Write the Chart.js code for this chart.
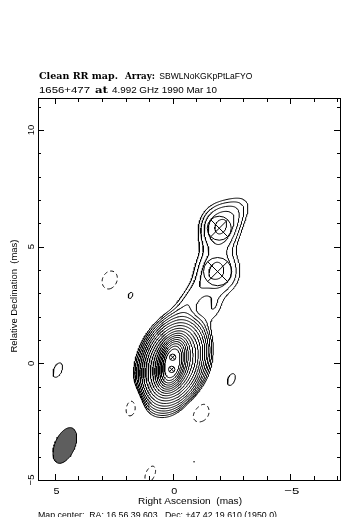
<!DOCTYPE html>
<html><head><meta charset="utf-8">
<style>html,body{margin:0;padding:0;background:#fff;overflow:hidden}</style>
<script src="https://cdn.jsdelivr.net/npm/chart.js@4.4.0/dist/chart.umd.min.js"></script>
</head><body>
<canvas id="c" width="341" height="517"></canvas>
<script>
// ---------------- text ----------------
const TITLE_1 = ["Clean RR map.", "Array:", "SBWLNoKGKpPtLaFYO"];
const TITLE_2 = ["1656+477", "at", "4.992 GHz 1990 Mar 10"];
const X_TITLE = "Right Ascension  (mas)";
const Y_TITLE = "Relative Declination  (mas)";
const FOOTER = "Map center:  RA: 16 56 39.603,  Dec: +47 42 19.610 (1950.0)";

// ---------------- axes ----------------
const X_RANGE = [-7.11, 5.72];          // RA runs right-to-left
const Y_RANGE = [-5, 11.37];
const X_TICKS = [5, 0, -5];
const Y_TICKS = [10, 5, 0, -5];
const X_MINOR = [5, 4, 3, 2, 1, 0, -1, -2, -3, -4, -5, -6, -7];
const Y_MINOR = [-5, -4, -3, -2, -1, 0, 1, 2, 3, 4, 5, 6, 7, 8, 9, 10, 11];

// ---------------- restored brightness model (mas, contour units) ----------------
//                core A  core B  core env  J1     J2     J-halo bridge spur   P1     P2     P3     P4     N1     N2     N3     N4
const CMP_RA   = [0.00,   0.04,  -0.02,   -1.98, -1.91, -2.65, -0.75, -1.74,  4.88, -2.48, -0.90,  1.81,  2.67,  1.64, -1.20,  0.95];
const CMP_DEC  = [0.26,  -0.26,   0.00,    5.79,  3.93,  6.50,  2.75,  2.35, -0.29, -0.72, -4.22,  2.93,  3.57, -1.75, -2.10, -4.75];
const CMP_PEAK = [430,    430,    95,      3.8,   3.0,   1.4,   1.6,   1.15,  1.12,  1.10,  1.004, 1.16, -1.25, -1.42, -1.30, -1.15];
const CMP_MAJ  = [0.90,   0.90,   1.88,    1.50,  1.60,  1.60,  1.70,  1.10,  1.62,  1.62,  1.62,  0.90,  1.40,  1.62,  1.50,  1.62];
const CMP_MIN  = [0.53,   0.53,   1.24,    1.25,  1.50,  1.00,  0.80,  0.70,  0.85,  0.85,  0.85,  0.60,  1.10,  0.85,  1.20,  0.85];
const CMP_PA   = [-20,    -20,    -20,     -10,   0,     -45,   -35,   -20,   -23,   -23,   -23,   -23,   -23,   -23,   -30,   -23];

// contour levels (negative dashed)
const LEVELS = [-1, 1, 1.41, 2, 2.83, 4, 5.66, 8, 11.3, 16, 22.6, 32, 45.3, 64, 90.5, 128, 181, 256, 362];

// model-fit components (circle + cross markers)
const MOD_RA   = [0.00, 0.04, -1.98, -1.91];
const MOD_DEC  = [0.26, -0.26, 5.79, 3.93];
const MOD_SIZE = [0.27, 0.27, 1.02, 1.20];

// restoring beam
const BEAM_POS  = [4.58, -3.52];
const BEAM_AXES = [1.62, 0.85];
const BEAM_PA   = -23;

// ---------------- contouring ----------------
const STEP = 0.04;
const X0 = X_RANGE[0], Y0 = Y_RANGE[0];
const NX = Math.round((X_RANGE[1] - X_RANGE[0]) / STEP) + 1;
const NY = Math.round((Y_RANGE[1] - Y_RANGE[0]) / STEP) + 1;

function brightnessGrid() {
  const comps = CMP_RA.map((ra, i) => {
    const pa = CMP_PA[i] * Math.PI / 180;
    return { ra, dec: CMP_DEC[i], p: CMP_PEAK[i], sa: CMP_MAJ[i] / 2.3548, sb: CMP_MIN[i] / 2.3548, s: Math.sin(pa), c: Math.cos(pa) };
  });
  const g = new Float64Array(NX * NY);
  for (let j = 0; j < NY; j++) {
    const y = Y0 + j * STEP;
    for (let i = 0; i < NX; i++) {
      const x = X0 + i * STEP;
      let v = 0;
      for (const q of comps) {
        const dx = x - q.ra, dy = y - q.dec;
        const u = dx * q.s + dy * q.c, w = dx * q.c - dy * q.s;
        const e = 0.5 * (u * u / (q.sa * q.sa) + w * w / (q.sb * q.sb));
        if (e < 30) v += q.p * Math.exp(-e);
      }
      g[j * NX + i] = v;
    }
  }
  return g;
}

function isoSegments(g, lev) {
  const segs = [];
  const interp = (v1, v2) => (lev - v1) / (v2 - v1);
  for (let j = 0; j < NY - 1; j++) {
    for (let i = 0; i < NX - 1; i++) {
      const a = g[j * NX + i], b = g[j * NX + i + 1], c = g[(j + 1) * NX + i + 1], d = g[(j + 1) * NX + i];
      const idx = (a > lev ? 1 : 0) | (b > lev ? 2 : 0) | (c > lev ? 4 : 0) | (d > lev ? 8 : 0);
      if (idx === 0 || idx === 15) continue;
      const xi = X0 + i * STEP, yj = Y0 + j * STEP;
      const E = (e) => {
        switch (e) {
          case 0: return { k: (j * NX + i) * 2, x: xi + STEP * interp(a, b), y: yj };
          case 1: return { k: (j * NX + i + 1) * 2 + 1, x: xi + STEP, y: yj + STEP * interp(b, c) };
          case 2: return { k: ((j + 1) * NX + i) * 2, x: xi + STEP * interp(d, c), y: yj + STEP };
          default: return { k: (j * NX + i) * 2 + 1, x: xi, y: yj + STEP * interp(a, d) };
        }
      };
      let pairs;
      switch (idx) {
        case 1: case 14: pairs = [[3, 0]]; break;
        case 2: case 13: pairs = [[0, 1]]; break;
        case 3: case 12: pairs = [[3, 1]]; break;
        case 4: case 11: pairs = [[1, 2]]; break;
        case 6: case 9: pairs = [[0, 2]]; break;
        case 7: case 8: pairs = [[3, 2]]; break;
        case 5: { const m = (a + b + c + d) / 4; pairs = m > lev ? [[0, 1], [2, 3]] : [[3, 0], [1, 2]]; break; }
        case 10: { const m = (a + b + c + d) / 4; pairs = m > lev ? [[3, 0], [1, 2]] : [[0, 1], [2, 3]]; break; }
      }
      for (const [e1, e2] of pairs) segs.push([E(e1), E(e2)]);
    }
  }
  return segs;
}

function chainSegments(segs) {
  const map = new Map();
  segs.forEach((s, n) => {
    for (const p of s) { if (!map.has(p.k)) map.set(p.k, []); map.get(p.k).push(n); }
  });
  const used = new Uint8Array(segs.length);
  const lines = [];
  const walk = (key, out) => {
    for (;;) {
      const list = map.get(key) || [];
      let nxt = -1;
      for (const m of list) if (!used[m]) { nxt = m; break; }
      if (nxt < 0) break;
      used[nxt] = 1;
      const s = segs[nxt];
      if (s[0].k === key) { out.push(s[1]); key = s[1].k; } else { out.push(s[0]); key = s[0].k; }
    }
  };
  for (let n = 0; n < segs.length; n++) {
    if (used[n]) continue;
    used[n] = 1;
    const fwd = [segs[n][1]], back = [];
    walk(segs[n][1].k, fwd);
    walk(segs[n][0].k, back);
    lines.push(back.reverse().concat([segs[n][0]], fwd));
  }
  return lines;
}

const GRID = brightnessGrid();
const posData = [], negData = [];
for (const lev of LEVELS) {
  const lines = chainSegments(isoSegments(GRID, lev));
  const target = lev < 0 ? negData : posData;
  for (const ln of lines) {
    for (const p of ln) target.push({ x: p.x, y: p.y });
    target.push({ x: ln[ln.length - 1].x, y: null });
  }
}

// beam outline
const beamData = [];
{
  const pa = BEAM_PA * Math.PI / 180, a = BEAM_AXES[0] / 2, b = BEAM_AXES[1] / 2;
  for (let t = 0; t <= 72; t++) {
    const th = t / 72 * 2 * Math.PI;
    const u = a * Math.cos(th), w = b * Math.sin(th);
    beamData.push({ x: BEAM_POS[0] + u * Math.sin(pa) + w * Math.cos(pa), y: BEAM_POS[1] + u * Math.cos(pa) - w * Math.sin(pa) });
  }
}

const modData = MOD_RA.map((ra, i) => ({ x: ra, y: MOD_DEC[i] }));
const modRadius = (ctx) => {
  const s = ctx.chart.scales.x;
  return Math.abs(s.getPixelForValue(0) - s.getPixelForValue(MOD_SIZE[ctx.dataIndex] / 2));
};

// ---------------- frame / text plugin ----------------
const SANS = "'Liberation Sans', Arial, sans-serif";
const SERIF = "'DejaVu Serif', serif";
function fitText(ctx, txt, x, y, font, w) {
  ctx.save();
  ctx.font = font;
  const nat = ctx.measureText(txt).width;
  ctx.translate(x, y);
  ctx.scale(w / nat, 1);
  ctx.textAlign = 'left';
  ctx.textBaseline = 'alphabetic';
  ctx.fillText(txt, 0, 0);
  ctx.restore();
}
const framePlugin = {
  id: 'frame',
  afterDraw(chart) {
    const ctx = chart.ctx, a = chart.chartArea, sx = chart.scales.x, sy = chart.scales.y;
    ctx.save();
    ctx.strokeStyle = '#000';
    ctx.fillStyle = '#000';
    ctx.lineWidth = 1;
    ctx.strokeRect(a.left + 0.5, a.top + 0.5, a.right - a.left, a.bottom - a.top);
    ctx.beginPath();
    for (const v of X_MINOR) {
      const px = Math.round(sx.getPixelForValue(v)) + 0.5;
      const len = X_TICKS.includes(v) ? 6 : 4;
      ctx.moveTo(px, a.bottom); ctx.lineTo(px, a.bottom - len);
      ctx.moveTo(px, a.top); ctx.lineTo(px, a.top + len);
    }
    for (const v of Y_MINOR) {
      const py = Math.round(sy.getPixelForValue(v)) + 0.5;
      const len = Y_TICKS.includes(v) ? 6 : 3;
      ctx.moveTo(a.left, py); ctx.lineTo(a.left + len, py);
      ctx.moveTo(a.right, py); ctx.lineTo(a.right - len, py);
    }
    ctx.stroke();
    // tick labels
    for (const v of X_TICKS) {
      const lab = v < 0 ? '\u2212' + Math.abs(v) : String(v);
      const w = v < 0 ? 15 : 6;
      fitText(ctx, lab, sx.getPixelForValue(v) + 1.5 - w / 2, a.bottom + 13.5, `9.5px ${SANS}`, w);
    }
    for (const v of Y_TICKS) {
      const lab = v < 0 ? '\u2212' + Math.abs(v) : String(v);
      ctx.save();
      ctx.translate(33.5, sy.getPixelForValue(v));
      ctx.rotate(-Math.PI / 2);
      ctx.font = `9.5px ${SANS}`;
      ctx.textAlign = 'center';
      ctx.fillText(lab, 0, 0);
      ctx.restore();
    }
    // axis titles
    fitText(ctx, X_TITLE, 138, 504, `9.5px ${SANS}`, 104);
    ctx.save();
    ctx.translate(16.5, 296);
    ctx.rotate(-Math.PI / 2);
    fitText(ctx, Y_TITLE, -56.5, 0, `9.5px ${SANS}`, 113);
    ctx.restore();
    // titles
    fitText(ctx, TITLE_1[0], 39, 79, `bold 9.5px ${SERIF}`, 79);
    fitText(ctx, TITLE_1[1], 125, 79, `bold 9.5px ${SERIF}`, 30);
    fitText(ctx, TITLE_1[2], 159.3, 79, `9.5px ${SANS}`, 93);
    fitText(ctx, TITLE_2[0], 39, 93, `9.5px ${SANS}`, 51);
    fitText(ctx, TITLE_2[1], 95, 93, `bold 9.5px ${SERIF}`, 13);
    fitText(ctx, TITLE_2[2], 112, 93, `9.5px ${SANS}`, 105);
    fitText(ctx, FOOTER, 38, 518, `8.5px ${SANS}`, 239);
    ctx.restore();
  }
};

new Chart(document.getElementById('c'), {
  type: 'scatter',
  data: {
    datasets: [
      { data: beamData, showLine: true, pointRadius: 0, borderColor: '#000', borderWidth: 1, backgroundColor: '#5e5e5e', fill: 'shape' },
      { data: posData, showLine: true, pointRadius: 0, borderColor: '#000', borderWidth: 1, spanGaps: false, fill: false },
      { data: negData, showLine: true, pointRadius: 0, borderColor: '#000', borderWidth: 1, borderDash: [4, 3], spanGaps: false, fill: false },
      { data: modData, pointStyle: 'circle', pointRadius: modRadius, pointBorderColor: '#000', pointBackgroundColor: 'rgba(0,0,0,0)', pointBorderWidth: 1 },
      { data: modData, pointStyle: 'crossRot', pointRadius: modRadius, pointBorderColor: '#000', pointBorderWidth: 1 }
    ]
  },
  options: {
    responsive: false,
    animation: false,
    devicePixelRatio: 1,
    events: [],
    layout: { padding: { left: 38, right: 1, top: 98, bottom: 37 } },
    plugins: { legend: { display: false }, tooltip: { enabled: false } },
    scales: {
      x: { type: 'linear', min: X_RANGE[0], max: X_RANGE[1], reverse: true, display: false },
      y: { type: 'linear', min: Y_RANGE[0], max: Y_RANGE[1], display: false }
    }
  },
  plugins: [framePlugin]
});
</script>
</body></html>
